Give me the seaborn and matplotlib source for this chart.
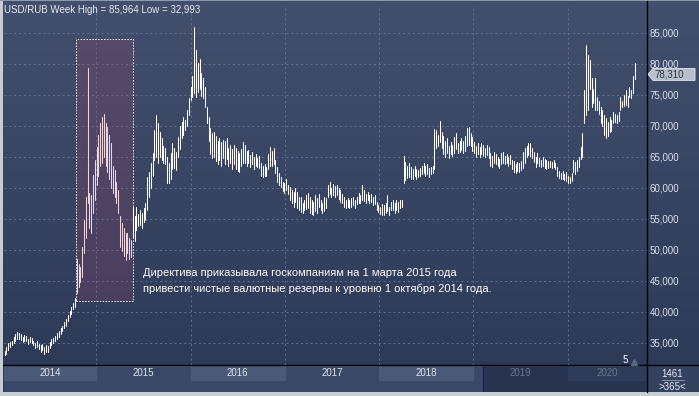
import numpy as np
import pandas as pd
import matplotlib
matplotlib.use("Agg")
import matplotlib.pyplot as plt
import matplotlib.transforms as mtransforms
from matplotlib.patches import Rectangle, Polygon
from matplotlib.lines import Line2D
import seaborn as sns

# ---- data (weekly bars) ----
first_week = "2014-01-10"

# 2014 Jan - early Oct
high_2014a = [33.7, 34.4, 35.0, 35.2, 35.4, 35.9, 36.5, 36.8, 36.6, 36.4,
              36.0, 36.3, 36.1, 35.7, 36.0, 35.8, 35.4, 35.0, 35.3, 34.8,
              34.6, 34.9, 34.4, 34.7, 34.5, 35.1, 35.6, 35.8, 36.2, 36.6,
              36.9, 37.4, 37.8, 38.4, 38.9, 39.5, 40.2, 40.8, 41.5, 42.3]
low_2014a = [33.0, 33.3, 33.9, 34.3, 34.6, 35.0, 35.4, 35.6, 35.6, 35.5,
             35.2, 35.4, 35.3, 34.9, 35.1, 35.0, 34.6, 34.2, 34.4, 34.0,
             33.6, 33.9, 33.3, 33.6, 33.5, 34.2, 34.7, 35.0, 35.3, 35.6,
             35.9, 36.4, 36.9, 37.4, 37.8, 38.5, 39.2, 39.7, 40.4, 40.8]
# 2014 Oct - Dec
high_2014b = [48.5, 47.8, 47.2, 50.5, 54.8, 58.5, 79.3, 59.2, 58.8, 62.1, 64.5, 66.6]
low_2014b = [43.0, 44.0, 44.8, 45.7, 49.5, 52.0, 57.6, 53.5, 52.7, 56.0, 58.0, 60.5]
# 2015 Jan - May
high_2015a = [68.5, 70.5, 71.5, 72.0, 70.5, 69.9, 68.5, 67.3, 63.5, 62.9,
              61.0, 59.7, 55.5, 54.3, 53.5, 52.7, 52.7, 52.0, 51.6, 57.0]
low_2015a = [62.0, 63.5, 64.0, 65.0, 63.5, 62.5, 61.5, 60.0, 59.2, 58.5,
             57.5, 56.0, 50.5, 49.8, 49.0, 48.4, 49.5, 48.6, 48.8, 52.1]
# 2015 Jun - 2016 Mar
high_2015b = [55.4, 57.0, 55.8, 56.5, 56.0, 56.8, 57.5, 61.8, 62.5, 64.0,
              65.6, 69.4, 71.8, 70.5, 69.0, 68.0, 66.8, 66.5, 65.0, 64.0,
              65.6, 67.3, 66.5, 65.8, 68.2, 70.0, 70.7, 71.5, 71.0, 72.6,
              74.5, 76.3, 78.0, 86.0, 82.3, 80.1, 80.8, 78.5, 77.7, 76.3,
              73.1, 71.5]
low_2015b = [51.5, 53.2, 53.8, 54.0, 53.5, 54.5, 54.8, 56.5, 58.5, 60.0,
             62.0, 64.5, 65.0, 64.0, 65.0, 64.5, 64.0, 63.8, 60.8, 60.8,
             61.5, 63.0, 63.2, 62.9, 65.0, 66.2, 68.1, 68.5, 69.4, 70.0,
             71.8, 74.2, 74.7, 75.3, 74.7, 75.5, 76.0, 74.8, 74.5, 73.1,
             70.5, 67.5]
# 2016 Mar - Dec
high_2016 = [69.6, 68.8, 69.0, 68.3, 67.5, 68.0, 67.4, 67.8, 67.5, 68.0,
             66.5, 67.0, 66.3, 67.0, 66.5, 66.0, 65.6, 66.2, 67.4, 66.9,
             66.0, 66.1, 65.3, 65.8, 65.0, 65.5, 64.8, 65.2, 64.0, 63.5,
             63.8, 63.3, 65.5, 66.6, 66.0, 66.4, 64.5, 63.4, 62.4]
low_2016 = [65.5, 64.8, 65.0, 64.3, 63.8, 64.5, 63.6, 64.8, 63.8, 64.6,
            63.5, 64.0, 63.0, 63.8, 63.0, 62.8, 62.6, 63.5, 64.0, 64.0,
            63.5, 64.0, 63.4, 63.8, 63.0, 63.5, 63.3, 63.2, 62.0, 61.8,
            62.0, 61.9, 63.0, 63.6, 63.5, 63.8, 62.4, 61.0, 60.5]
# 2017 Jan - Jun
high_2017a = [61.8, 61.0, 60.8, 61.5, 60.5, 60.2, 59.6, 59.4, 60.0, 59.3,
              58.6, 58.5, 57.6, 58.0, 58.8, 59.2, 58.6, 58.0, 57.8, 58.9,
              58.3, 59.0]
low_2017a = [60.2, 59.5, 59.2, 59.6, 59.0, 58.1, 57.5, 57.0, 57.8, 56.8,
             56.5, 56.2, 56.0, 56.5, 56.6, 56.8, 56.0, 55.8, 55.6, 56.3,
             56.0, 57.0]
# 2017 Jun - 2018 Apr
high_2017b = [58.1, 57.6, 58.5, 58.3, 60.5, 61.0, 60.0, 60.6, 60.3, 60.5,
              60.0, 59.6, 59.0, 58.5, 58.1, 58.4, 58.0, 58.3, 58.5, 58.0,
              58.6, 59.2, 58.8, 60.5, 59.6, 59.0, 59.4, 58.8, 59.0, 58.5,
              58.9, 57.7, 57.3, 57.0, 57.4, 57.2, 57.5, 58.9, 57.0, 57.8,
              58.0, 57.6, 58.1, 57.8, 58.1, 58.0]
low_2017b = [56.5, 56.0, 56.3, 56.8, 58.5, 59.0, 58.5, 58.9, 58.6, 58.8,
             58.2, 57.8, 57.5, 57.0, 56.8, 57.0, 56.7, 57.0, 57.2, 56.8,
             57.4, 57.6, 57.6, 58.0, 57.9, 57.6, 58.0, 57.5, 57.8, 57.2,
             57.4, 56.5, 56.2, 55.8, 55.6, 55.7, 56.0, 56.3, 55.7, 56.5,
             56.5, 56.0, 56.4, 56.2, 56.8, 56.9]
# 2018 Apr - 2019 Feb
high_2018 = [65.2, 64.2, 63.5, 64.0, 63.4, 63.0, 63.6, 63.0, 62.9, 63.2,
             63.5, 64.0, 63.6, 63.8, 63.2, 63.4, 63.5, 69.5, 69.4, 68.5,
             70.8, 69.0, 68.4, 67.5, 68.0, 66.8, 67.4, 67.0, 68.2, 68.8,
             67.3, 67.6, 68.0, 67.5, 68.3, 69.7, 69.8, 68.9, 68.2, 67.4,
             66.8, 67.2, 66.6, 67.3, 66.9, 66.5, 67.0, 66.6]
low_2018 = [60.8, 61.3, 61.6, 61.8, 61.4, 61.4, 61.9, 61.5, 61.7, 62.0,
            62.2, 62.4, 62.0, 62.3, 61.8, 62.2, 62.4, 63.0, 66.5, 66.8,
            67.4, 66.4, 65.5, 65.0, 65.6, 64.8, 65.4, 65.2, 65.6, 66.2,
            65.6, 65.8, 66.1, 65.7, 66.0, 66.8, 67.0, 66.8, 66.0, 65.6,
            65.0, 65.4, 65.0, 65.5, 65.2, 65.0, 65.3, 64.8]
# 2019 Feb - 2020 Mar
high_2019 = [65.6, 65.2, 65.8, 65.5, 65.0, 64.6, 65.6, 65.8, 65.2, 65.5,
             65.0, 65.3, 64.5, 64.3, 63.8, 64.2, 64.0, 64.4, 65.8, 66.5,
             66.8, 67.2, 67.3, 66.5, 65.8, 65.0, 65.6, 64.8, 64.5, 65.0,
             64.6, 64.5, 64.3, 64.4, 64.2, 64.5, 64.0, 63.4, 62.8, 62.4,
             62.8, 62.2, 62.6, 62.0, 61.8, 62.4, 64.5, 64.2, 64.5, 65.0,
             66.6, 68.9]
low_2019 = [63.6, 63.4, 64.0, 63.8, 63.6, 63.2, 63.9, 64.0, 63.8, 64.0,
            63.6, 63.9, 63.0, 62.6, 62.4, 62.8, 62.5, 62.9, 63.2, 64.0,
            65.0, 65.3, 65.2, 64.8, 64.2, 63.4, 64.0, 63.6, 63.4, 63.5,
            63.2, 63.0, 63.2, 63.3, 63.2, 63.4, 63.0, 62.0, 61.6, 61.5,
            61.4, 61.3, 61.2, 60.8, 60.8, 61.2, 62.5, 62.3, 62.8, 63.4,
            64.6, 65.0]
# 2020 Mar - Sep
high_2020 = [75.8, 83.1, 81.5, 80.6, 77.7, 76.0, 77.7, 74.7, 74.0, 73.1,
             72.5, 71.8, 71.2, 70.6, 71.5, 71.0, 72.3, 72.0, 71.8, 72.3,
             74.7, 74.0, 75.0, 75.8, 74.8, 76.3, 75.8, 78.0, 80.2]
low_2020 = [70.5, 71.8, 72.6, 76.0, 73.0, 73.7, 72.6, 72.5, 72.0, 70.5,
            70.0, 68.6, 68.1, 68.4, 69.0, 69.2, 70.5, 70.6, 70.5, 70.8,
            72.6, 73.1, 73.2, 73.4, 73.0, 74.7, 74.5, 75.3, 77.5]

years = [2014, 2015, 2016, 2017, 2018, 2019, 2020]
price_ticks = [35, 40, 45, 50, 55, 60, 65, 70, 75, 80, 85]
last_price = 78.31
title = "USD/RUB Week High = 85,964 Low = 32,993"
note_lines = ["Директива приказывала госкомпаниям на 1 марта 2015 года",
              "привести чистые валютные резервы к уровню 1 октября 2014 года."]
box_start, box_end = "2014-10-15", "2015-05-23"
box_low, box_high = 41.7, 84.0

highs = (high_2014a + high_2014b + high_2015a + high_2015b + high_2016 +
         high_2017a + high_2017b + high_2018 + high_2019 + high_2020)
lows = (low_2014a + low_2014b + low_2015a + low_2015b + low_2016 +
        low_2017a + low_2017b + low_2018 + low_2019 + low_2020)

dates = pd.date_range(first_week, periods=len(highs), freq="7D")
df = pd.DataFrame({"date": dates, "high": highs, "low": lows, "week": range(len(highs))})
bars = df.melt(id_vars=["date", "week"], value_vars=["low", "high"], value_name="price")

# ---- style ----
sns.set_theme(style="dark")
plt.rcParams["font.family"] = ["Liberation Sans", "DejaVu Sans"]

W, H = 699, 396
fig = plt.figure(figsize=(W / 100, H / 100), dpi=100)

# background gradient + frame
bg = fig.add_axes([0, 0, 1, 1])
bg.set_xlim(0, 1)
bg.set_ylim(0, 1)
bg.axis("off")
top = np.array([0x42, 0x4f, 0x6d]) / 255
bot = np.array([0x2b, 0x38, 0x56]) / 255
g = np.linspace(0, 1, 256).reshape(-1, 1, 1)
bg.imshow(top * (1 - g) + bot * g, aspect="auto", extent=[0, 1, 0, 1], zorder=0)
bg.add_patch(Rectangle((0, 0), 3 / W, 1, fc="#c6ccd4", ec="none", zorder=1))
bg.add_patch(Rectangle((0, 0), 1, 4 / H, fc="#c9ced4", ec="none", zorder=1))
bg.add_patch(Rectangle((0, 1 - 1 / H), 1, 1 / H, fc="#8e99ab", ec="none", zorder=1))
bg.add_patch(Rectangle((647 / W, 4 / H), 52 / W, 27 / H, fc="#34415f", ec="none", zorder=1))
bg.add_line(Line2D([3 / W, 1], [1 - 365 / H] * 2, color="black", lw=1, zorder=2))
bg.add_line(Line2D([647 / W] * 2, [4 / H, 1 - 1 / H], color="black", lw=1, zorder=2))

d0 = pd.Timestamp(first_week)
xlim = (d0 - pd.Timedelta(days=2), d0 + pd.Timedelta(days=2490))

# ---- main price panel ----
ax = fig.add_axes([4 / W, 1 - 365 / H, 643 / W, 360 / H])
ax.set_facecolor("none")
sns.lineplot(data=bars, x="date", y="price", units="week", estimator=None,
             color="white", lw=0.75, ax=ax, legend=False, zorder=3)
ax.set_xlim(xlim)
ax.set_ylim(31.45, 89.5)
ax.set_xlabel("")
ax.set_ylabel("")
for s in ax.spines.values():
    s.set_visible(False)

ax.set_xticks([pd.Timestamp(f"{y}-01-01") for y in years[1:]])
ax.set_yticks(price_ticks)
ax.yaxis.tick_right()
ax.set_yticklabels([f"{v},000" for v in price_ticks])
ax.tick_params(axis="x", length=0, labelbottom=False)
ax.tick_params(axis="y", length=0, pad=2, labelsize=7, labelcolor="#d8dfee")
ax.grid(True, color="#62709a", lw=0.7, ls=(0, (2, 3)))

# highlighted period
x0 = pd.Timestamp(box_start)
x1 = pd.Timestamp(box_end)
ax.add_patch(Rectangle((x0, box_low), x1 - x0, box_high - box_low,
                       fc="#a8456a", alpha=0.22, ec="none", zorder=4))
ax.add_patch(Rectangle((x0, box_low), x1 - x0, box_high - box_low,
                       fc="none", ec="white", lw=0.7, ls=(0, (1.5, 1.5)), zorder=5))

# last price tag
bt = mtransforms.blended_transform_factory(ax.transAxes, ax.transData)
hh = 6 / 6.2
ax.add_patch(Polygon([(1.0016, last_price), (1.0093, last_price + hh),
                      (1.0747, last_price + hh), (1.0747, last_price - hh),
                      (1.0093, last_price - hh)], closed=True,
                     fc="#b9c0cb", ec="#e2e6ec", lw=0.6, transform=bt, clip_on=False, zorder=6))
ax.text(1.011, last_price, f"{last_price:.3f}".replace(".", ","), transform=bt,
        ha="left", va="center", fontsize=7, color="#263044", zorder=7)

# ---- bottom year strip ----
sx = fig.add_axes([4 / W, 1 - 392 / H, 643 / W, 26 / H])
sx.set_xlim(xlim)
sx.set_ylim(0, 1)
sx.axis("off")
split = pd.Timestamp("2019-02-08")
sx.axvspan(xlim[0], split, color="#3a4868", zorder=0)
sx.axvspan(split, xlim[1], color="#27334f", zorder=0)
sx.axvline(split, color="#1c253b", lw=0.8, zorder=1)
for y in years:
    a = max(pd.Timestamp(f"{y}-01-01"), xlim[0])
    b = min(pd.Timestamp(f"{y + 1}-01-01"), xlim[1])
    if y in (2014, 2016, 2018):
        sx.axvspan(a, b, ymin=0.46, ymax=0.96, color="#4b5978", zorder=1)
    if y == 2020:
        sx.axvspan(a, b - pd.Timedelta(days=8), ymin=0.46, ymax=1.0, color="#2f3c59", zorder=1)
    col = "#dfe5f0" if y < 2019 else "#6b7690"
    sx.text(a + (b - a) / 2, 0.72, str(y), ha="center", va="center",
            fontsize=7, color=col, zorder=2)

# ---- texts ----
fig.text(4 / W, 1 - 10 / H, title, ha="left", va="center", fontsize=7, color="#e6eaf2")
fig.text(143 / W, 1 - 273 / H, note_lines[0], ha="left", va="center", fontsize=8.0, color="white")
fig.text(143 / W, 1 - 288.5 / H, note_lines[1], ha="left", va="center", fontsize=8.0, color="white")
fig.text(625 / W, 1 - 360 / H, "5", ha="center", va="center", fontsize=7, color="white")
bg.plot([634 / W], [1 - 362 / H], marker="^", ms=4, color="#5a6886", zorder=3)
fig.text(672 / W, 1 - 374 / H, "1461", ha="center", va="center", fontsize=7, color="#e6eaf2")
bg.add_line(Line2D([662 / W, 684 / W], [1 - 380 / H] * 2, color="#8893a8", lw=0.7, zorder=3))
fig.text(672 / W, 1 - 386.5 / H, ">365<", ha="center", va="center", fontsize=7, color="#e6eaf2")

fig.savefig("out.png", dpi=100)
